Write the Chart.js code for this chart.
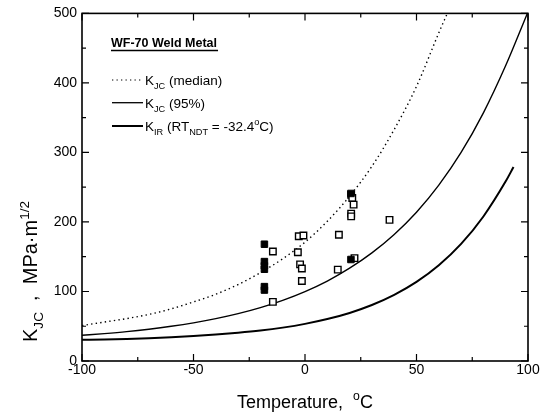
<!DOCTYPE html>
<html>
<head>
<meta charset="utf-8">
<script src="https://cdn.jsdelivr.net/npm/chart.js@4.4.1/dist/chart.umd.min.js"></script>
<style>
  html, body { margin: 0; padding: 0; background: #fff; }
  #wrap { width: 546px; height: 419px; }
</style>
</head>
<body>
<div id="wrap"><canvas id="c" width="546" height="419"></canvas></div>
<script>
// ---- data ----
const medianT = [-100, -90, -80, -70, -60, -50, -40, -30, -20, -10, 0, 10, 20, 30, 40, 50, 60, 63.8];
const medianK = [51, 56, 61, 67, 75, 85, 96, 110, 127, 147, 171, 201, 237, 280, 333, 395, 472, 500];

const p95T = [-100, -90, -80, -70, -60, -50, -40, -30, -20, -10, 0, 10, 20, 30, 40, 50, 60, 70, 80, 90, 99.7];
const p95K = [37, 39.4, 42.2, 45.7, 49.9, 54.9, 60.9, 68.1, 76.8, 87.3, 99.9, 115, 133.5, 155.5, 182, 214, 253, 300, 357, 425, 500];

const kirT = [-100, -90, -80, -70, -60, -50, -40, -30, -20, -10, 0, 10, 20, 30, 40, 50, 60, 70, 80, 90, 93.5];
const kirK = [30.5, 31, 31.8, 32.8, 34.2, 36, 38, 40.6, 43.8, 48, 53.4, 60.3, 69.1, 80.5, 95.1, 113.7, 137.7, 168.4, 207.9, 258.4, 279];

const openT = [-14.4, -14.4, -2.8, -0.7, -3.2, -2.2, -1.4, -1.4, 15.2, 14.7, 20.7, 21.2, 21.8, 20.7, 20.7, 22.2, 37.9];
const openK = [157.6, 85, 179.5, 180.5, 156.5, 139, 133, 115, 181.5, 131.5, 239, 234.5, 225, 212, 208, 148, 203];

const filledT = [-18.2, -18.2, -18.2, -18.2, -18.2, -18.2, 20.6, 20.6];
const filledK = [168, 143, 137, 132, 107, 102, 241, 146];

const xMajor = [-100, -50, 0, 50, 100];
const xMinor = [-75, -25, 25, 75];
const yMajor = [0, 100, 200, 300, 400, 500];
const yMinor = [50, 150, 250, 350, 450];

const legendTitle = 'WF-70 Weld Metal';
// -------------------------------------

const FONT = '"Liberation Sans", Arial, Helvetica, sans-serif';
const toXY = (xs, ys) => xs.map((x, i) => ({ x: x, y: ys[i] }));

function drawRich(ctx, x, y, parts, size, weight) {
  let cx = x;
  for (const [txt, mode] of parts) {
    let s = size, dy = 0;
    if (mode === 'sub') { s = size * 0.68; dy = size * 0.3; }
    if (mode === 'sup') { s = size * 0.68; dy = -size * 0.42; }
    ctx.font = (weight || 'normal') + ' ' + s + 'px ' + FONT;
    ctx.fillText(txt, cx, y + dy);
    cx += ctx.measureText(txt).width;
  }
  return cx - x;
}
function measureRich(ctx, parts, size) {
  let w = 0;
  for (const [txt, mode] of parts) {
    const s = mode === 'n' ? size : size * 0.68;
    ctx.font = 'normal ' + s + 'px ' + FONT;
    w += ctx.measureText(txt).width;
  }
  return w;
}

const decor = {
  id: 'decor',
  afterDraw(chart) {
    const ctx = chart.ctx;
    const a = chart.chartArea;
    const xs = chart.scales.x, ys = chart.scales.y;
    ctx.save();
    ctx.strokeStyle = '#000';
    ctx.fillStyle = '#000';
    // frame
    ctx.lineWidth = 1.6;
    ctx.strokeRect(a.left, a.top, a.right - a.left, a.bottom - a.top);
    // inward ticks
    ctx.lineWidth = 1.2;
    ctx.beginPath();
    const tx = (v, len) => {
      const p = xs.getPixelForValue(v);
      ctx.moveTo(p, a.bottom); ctx.lineTo(p, a.bottom - len);
      ctx.moveTo(p, a.top); ctx.lineTo(p, a.top + len);
    };
    const ty = (v, len) => {
      const p = ys.getPixelForValue(v);
      ctx.moveTo(a.left, p); ctx.lineTo(a.left + len, p);
      ctx.moveTo(a.right, p); ctx.lineTo(a.right - len, p);
    };
    xMajor.forEach(v => tx(v, 7));
    xMinor.forEach(v => tx(v, 4));
    yMajor.forEach(v => ty(v, 7));
    yMinor.forEach(v => ty(v, 4));
    ctx.stroke();

    // legend
    ctx.textBaseline = 'alphabetic';
    ctx.textAlign = 'left';
    ctx.font = 'bold 12.5px ' + FONT;
    ctx.fillText(legendTitle, 111, 47);
    const tw = ctx.measureText(legendTitle).width;
    ctx.lineWidth = 1.5;
    ctx.beginPath(); ctx.moveTo(111, 50.5); ctx.lineTo(111 + tw + 1, 50.5); ctx.stroke();

    const rows = [
      { y: 80, dash: [1.3, 3.2], w: 1.2, parts: [['K', 'n'], ['JC', 'sub'], [' (median)', 'n']] },
      { y: 102.7, dash: [], w: 1.3, parts: [['K', 'n'], ['JC', 'sub'], [' (95%)', 'n']] },
      { y: 126, dash: [], w: 2, parts: [['K', 'n'], ['IR', 'sub'], [' (RT', 'n'], ['NDT', 'sub'], [' = -32.4', 'n'], ['o', 'sup'], ['C)', 'n']] }
    ];
    for (const r of rows) {
      ctx.setLineDash(r.dash);
      ctx.lineWidth = r.w;
      ctx.beginPath(); ctx.moveTo(112, r.y); ctx.lineTo(143, r.y); ctx.stroke();
      ctx.setLineDash([]);
      drawRich(ctx, 145, r.y + 5, r.parts, 13.5);
    }

    // x title
    const xp = [['Temperature,  ', 'n'], ['o', 'sup'], ['C', 'n']];
    const xw = measureRich(ctx, xp, 18);
    drawRich(ctx, (a.left + a.right) / 2 - xw / 2, 408, xp, 18);

    // y title
    const yp = [['K', 'n'], ['JC', 'sub'], ['  ,  MPa\u00B7m', 'n'], ['1/2', 'sup']];
    ctx.translate(37, 342);
    ctx.rotate(-Math.PI / 2);
    drawRich(ctx, 0, 0, yp, 20);
    ctx.restore();
  }
};

new Chart(document.getElementById('c'), {
  type: 'scatter',
  data: {
    datasets: [
      { data: toXY(filledT, filledK), pointStyle: 'rect', pointRadius: 4.6, borderWidth: 1,
        borderColor: '#000', backgroundColor: '#000', showLine: false },
      { data: toXY(openT, openK), pointStyle: 'rect', pointRadius: 4.6, borderWidth: 1.4,
        borderColor: '#000', backgroundColor: '#fff', showLine: false },
      { data: toXY(medianT, medianK), showLine: true, pointRadius: 0, borderColor: '#000',
        borderWidth: 1.4, borderDash: [1.4, 3.2], cubicInterpolationMode: 'monotone' },
      { data: toXY(p95T, p95K), showLine: true, pointRadius: 0, borderColor: '#000',
        borderWidth: 1.4, cubicInterpolationMode: 'monotone' },
      { data: toXY(kirT, kirK), showLine: true, pointRadius: 0, borderColor: '#000',
        borderWidth: 2, cubicInterpolationMode: 'monotone' }
    ]
  },
  options: {
    responsive: false,
    animation: false,
    devicePixelRatio: 1,
    layout: { padding: { top: 12, right: 18, left: 0, bottom: 0 } },
    plugins: { legend: { display: false }, tooltip: { enabled: false } },
    scales: {
      x: {
        type: 'linear', min: -100, max: 100,
        afterBuildTicks: s => { s.ticks = xMajor.map(v => ({ value: v })); },
        afterFit: s => { s.height = 58; },
        grid: { display: false, drawTicks: false },
        border: { display: false },
        ticks: { color: '#000', padding: 1, maxRotation: 0, font: { family: FONT, size: 14 } }
      },
      y: {
        type: 'linear', min: 0, max: 500,
        afterBuildTicks: s => { s.ticks = yMajor.map(v => ({ value: v })); },
        afterFit: s => { s.width = 82; },
        grid: { display: false, drawTicks: false },
        border: { display: false },
        ticks: { color: '#000', padding: 5, font: { family: FONT, size: 14 } }
      }
    }
  },
  plugins: [decor]
});
</script>
</body>
</html>
